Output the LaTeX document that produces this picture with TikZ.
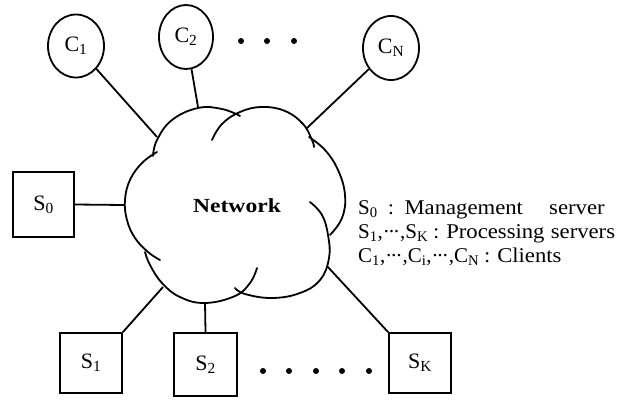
\documentclass[tikz,border=0pt]{standalone}
\usepackage{fontspec}
\setmainfont{Liberation Serif}
\usetikzlibrary{shapes.geometric}
\newcommand{\mydots}{·\kern-0.09em·\kern-0.09em·}
\newcommand{\wideword}[1]{\scalebox{1.08}[1]{#1}}
\tikzset{
  client/.style={draw, ellipse, line width=1.8pt, minimum width=56pt, minimum height=63pt, inner sep=0pt, font=\fontsize{22}{22}\selectfont},
  server/.style={draw, rectangle, line width=1.8pt, inner sep=0pt, font=\fontsize{22}{22}\selectfont},
  link/.style={line width=1.8pt},
  cloudline/.style={line width=1.8pt, line cap=round},
  legend/.style={anchor=west, inner sep=0pt, font=\fontsize{21}{21}\selectfont},
  dotm/.style={fill, circle, inner sep=0pt, minimum size=6pt},
}
\begin{document}
\begin{tikzpicture}[x=1pt,y=-1pt]
\useasboundingbox (0,0) rectangle (620,399);
% clients
\node[client] (c1) at (76,46) {C\textsubscript{1}};
\node[client, minimum width=54pt, minimum height=64pt] (c2) at (186,37) {C\textsubscript{2}};
\node[client, minimum height=64pt] (cn) at (391,48) {C\textsubscript{N}};
\node[dotm] (t1) at (241,41) {};
\node[dotm] (t2) at (267,41) {};
\node[dotm] (t3) at (294,41) {};
% servers
\node[server, minimum width=61pt, minimum height=65pt] (s0) at (43.5,204.5) {S\textsubscript{0}};
\node[server, minimum width=62pt, minimum height=60pt] (s1) at (91,363) {S\textsubscript{1}};
\node[server, minimum width=63pt, minimum height=63pt] (s2) at (205.5,364.5) {S\textsubscript{2}};
\node[server, minimum width=62pt, minimum height=60pt] (sk) at (420,363) {S\textsubscript{K}};
\node[dotm] (b1) at (263,371) {};
\node[dotm] (b2) at (289,371) {};
\node[dotm] (b3) at (316,371) {};
\node[dotm] (b4) at (342,371) {};
\node[dotm] (b5) at (369,371) {};
% cloud
\draw[cloudline] plot[smooth, tension=0.7] coordinates {(153,156) (157,140) (172,120) (198,108) (222,109) (240,116)};
\draw[cloudline] plot[smooth, tension=0.7] coordinates {(212,140) (222,124) (240,112) (262,107) (285,111) (303,124) (312,140) (314,147)};
\draw[cloudline] plot[smooth, tension=0.7] coordinates {(309,137) (325,150) (338,170) (345,195) (342,218) (330,235)};
\draw[cloudline] plot[smooth, tension=0.7] coordinates {(310,202) (322,215) (328,235) (329,258) (320,280) (300,293) (272,298) (245,294) (235,288)};
\draw[cloudline] plot[smooth, tension=0.7] coordinates {(257,268) (250,283) (235,296) (205,303) (180,297) (162,283) (150,265) (145,252)};
\draw[cloudline] plot[smooth, tension=0.7] coordinates {(160,260) (148,252) (135,238) (127,220) (125,200) (130,180) (142,163) (157,152)};
\node[font=\fontsize{20}{20}\selectfont\bfseries] (net) at (237,206) {\scalebox{1.18}[1]{Network}};
% attach points on the cloud
\coordinate (a1) at (157,137);
\coordinate (a2) at (198,107);
\coordinate (an) at (307,128);
\coordinate (a0) at (125,205);
\coordinate (b1a) at (163,287);
\coordinate (b2a) at (205,302);
\coordinate (bka) at (327,266);
\draw[link] (c1) -- (a1);
\draw[link] (c2) -- (a2);
\draw[link] (cn) -- (an);
\draw[link] (s0.east) -- (a0);
\draw[link] (s1.north east) -- (b1a);
\draw[link] (s2.north) -- (b2a);
\draw[link] (sk.north west) -- (bka);
% legend
\node[legend] (l1) at (358,210) {S\textsubscript{0}\hspace{0.5em}:\hspace{0.5em}\wideword{Management}\hspace{1.25em}\wideword{server}};
\node[legend] (l2) at (358,234) {S\textsubscript{1},\mydots,S\textsubscript{K} : \wideword{Processing}\hspace{0.3em}\wideword{servers}};
\node[legend] (l3) at (358,257) {C\textsubscript{1},\mydots,C\textsubscript{i},\mydots,C\textsubscript{N} : \wideword{Clients}};
\end{tikzpicture}
\end{document}
